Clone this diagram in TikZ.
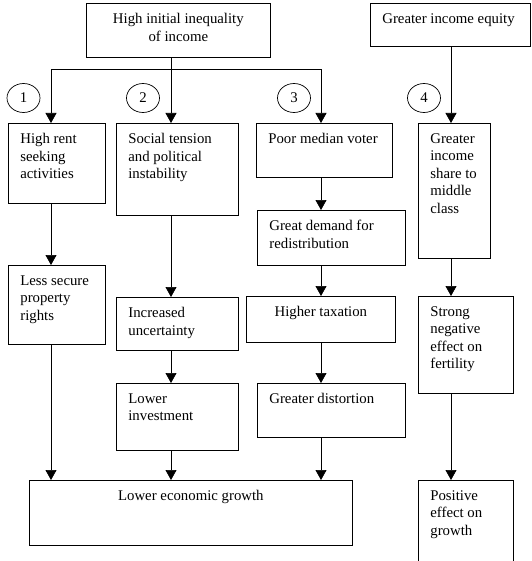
\documentclass[tikz,border=0pt]{standalone}
\usepackage{fontspec}
\setmainfont{Liberation Serif}
\usetikzlibrary{arrows.meta,shapes.geometric}
\tikzset{
  box/.style={draw, anchor=north west, inner sep=0pt},
  txt/.style={anchor=north west, align=left, inner sep=0pt, xshift=12pt, yshift=-10pt},
  ctxt/.style={anchor=north, align=center, inner sep=0pt, yshift=-10pt},
  num/.style={draw, ellipse, minimum width=33pt, minimum height=29pt, inner sep=0pt}
}
\begin{document}
\begin{tikzpicture}[x=1pt, y=-1pt, line width=0.7pt,
    >={Triangle[length=10pt,width=11pt]},
    font=\fontsize{14.8}{17.5}\selectfont]
\useasboundingbox (0,0) rectangle (531,561);

% top row
\node[box, minimum width=184, minimum height=54,
  label={[ctxt]north:{High initial inequality\\of income}}] (ineq) at (86,3) {};
\node[box, minimum width=160, minimum height=43,
  label={[txt]north west:{Greater income equity}}] (equity) at (370,3) {};

% column 1
\node[box, minimum width=97, minimum height=80,
  label={[txt]north west:{High rent\\seeking\\activities}}] (rent) at (8,123) {};
\node[box, minimum width=97, minimum height=79,
  label={[txt]north west:{Less secure\\property\\rights}}] (secure) at (8,265) {};

% column 2
\node[box, minimum width=122, minimum height=92,
  label={[txt]north west:{Social tension\\and political\\instability}}] (soc) at (116,123) {};
\node[box, minimum width=122, minimum height=53,
  label={[txt]north west:{Increased\\uncertainty}}] (uncert) at (116,297) {};
\node[box, minimum width=122, minimum height=67,
  label={[txt]north west:{Lower\\investment}}] (invest) at (116,383) {};

% column 3
\node[box, minimum width=136, minimum height=54,
  label={[txt]north west:{Poor median voter}}] (voter) at (256,123) {};
\node[box, minimum width=148, minimum height=55,
  label={[txt]north west:{Great demand for\\redistribution}}] (demand) at (257,210) {};
\node[box, minimum width=149, minimum height=46,
  label={[ctxt]north:{Higher taxation}}] (tax) at (246,296) {};
\node[box, minimum width=148, minimum height=54,
  label={[txt]north west:{Greater distortion}}] (distort) at (257,383) {};

% column 4
\node[box, minimum width=72, minimum height=135,
  label={[txt]north west:{Greater\\income\\share to\\middle\\class}}] (share) at (418,123) {};
\node[box, minimum width=95, minimum height=97,
  label={[txt]north west:{Strong\\negative\\effect on\\fertility}}] (fert) at (418,296) {};
\node[box, minimum width=95, minimum height=86,
  label={[txt]north west:{Positive\\effect on\\growth}}] (pos) at (418,480) {};

% bottom
\node[box, minimum width=323, minimum height=65,
  label={[ctxt]north:{Lower economic growth}}] (growth) at (29,480) {};

\foreach \n/\x in {1/23.5,2/143,3/294,4/424}
  \node[num] (c\n) at (\x,98) {\n};
\foreach \n/\x in {1/51,2/171,3/321,4/451}
  \coordinate (k\n) at (\x,69);

\draw[<->] (rent.north -| k1) |- (k3) -- (voter.north -| k3);
\draw[->] (ineq.south -| k2) -- (soc.north -| k2);
\draw[->] (equity.south -| k4) -- (share.north -| k4);
\foreach \a/\b/\k in {rent/secure/k1, secure/growth/k1,
    soc/uncert/k2, uncert/invest/k2, invest/growth/k2,
    voter/demand/k3, demand/tax/k3, tax/distort/k3, distort/growth/k3,
    share/fert/k4, fert/pos/k4}
  \draw[->] (\a.south -| \k) -- (\b.north -| \k);
\end{tikzpicture}
\end{document}
